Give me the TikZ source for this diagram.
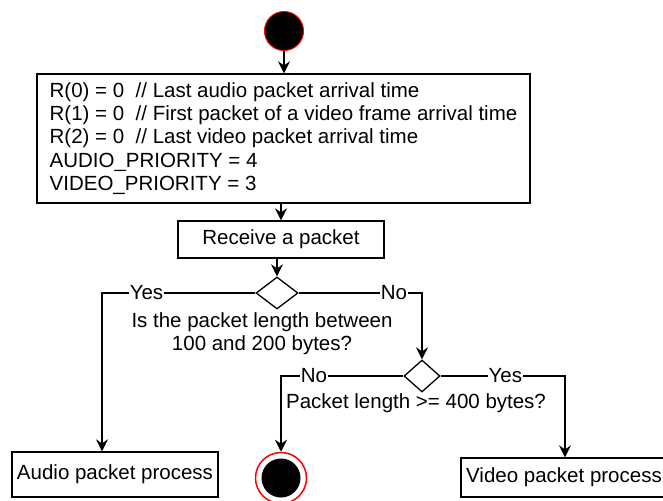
\documentclass[tikz,border=0pt]{standalone}
\usepackage{fontspec}
\setmainfont{Liberation Sans}
\usetikzlibrary{arrows.meta,shapes.geometric}
\begin{document}
\begin{tikzpicture}[x=1pt,y=-1pt,
  every node/.style={font=\fontsize{20.5}{23.3}\selectfont},
  line/.style={line width=1.3pt},
  arr/.style={line, -{Stealth[length=12pt,width=12pt,inset=4pt]}},
  box/.style={draw, line width=1.3pt, inner sep=0pt, fill=white},
  decision/.style={diamond, draw, line width=1.3pt, inner sep=0pt, fill=white},
  lbl/.style={fill=white, inner sep=1pt},
]
\useasboundingbox (0,0) rectangle (663,500);

% start state
\node[circle, fill=black, draw=red, line width=1pt, minimum size=39pt, inner sep=0pt] (start) at (284,31) {};

% initialisation
\node[box, minimum width=493pt, minimum height=129pt, align=left] (init) at (283.5,138.5)
  {R(0) = 0\ \ // Last audio packet arrival time\\
   R(1) = 0\ \ // First packet of a video frame arrival time\\
   R(2) = 0\ \ // Last video packet arrival time\\
   AUDIO\_PRIORITY = 4\\
   VIDEO\_PRIORITY = 3};

\node[box, minimum width=206pt, minimum height=37pt] (rcv) at (281,239.5) {Receive a packet};

% first decision
\node[decision, minimum width=42pt, minimum height=32pt] (d1) at (277,293) {};
\node[align=center, inner sep=1pt] (q1) at (262,333.5) {Is the packet length between\\100 and 200 bytes?};

% second decision
\node[decision, minimum width=36pt, minimum height=32pt] (d2) at (422,376) {};
\node[inner sep=1pt] (q2) at (416,403) {Packet length >= 400 bytes?};

% outcomes
\node[box, minimum width=206pt, minimum height=45pt] (audio) at (115,474.5) {Audio packet process};
\node[circle, draw=red, line width=1.5pt, minimum size=51pt, inner sep=0pt] (endc) at (281,478) {};
\node[circle, fill=black, minimum size=39pt, inner sep=0pt] (endcore) at (endc.center) {};
\node[box, minimum width=206pt, minimum height=39pt] (video) at (564,477.5) {Video packet process};

\coordinate (aIn) at ([xshift=-13pt]audio.north);
\coordinate (vIn) at ([xshift=1pt]video.north);

% connectors
\draw[arr] (start.south) -- (start.south |- init.north);
\draw[arr] (init.south -| rcv.north) -- (rcv.north);
\draw[arr] (rcv.south -| d1.north) -- (d1.north);
\draw[arr] (d1.west) -| node[lbl, pos=0.355] {Yes} (aIn);
\draw[arr] (d1.east) -| node[lbl, pos=0.386] {No} (d2.north);
\draw[arr] (d2.west) -| node[lbl, pos=0.365] {No} (endc.north);
\draw[arr] (d2.east) -| node[lbl, pos=0.26] {Yes} (vIn);
\end{tikzpicture}
\end{document}
